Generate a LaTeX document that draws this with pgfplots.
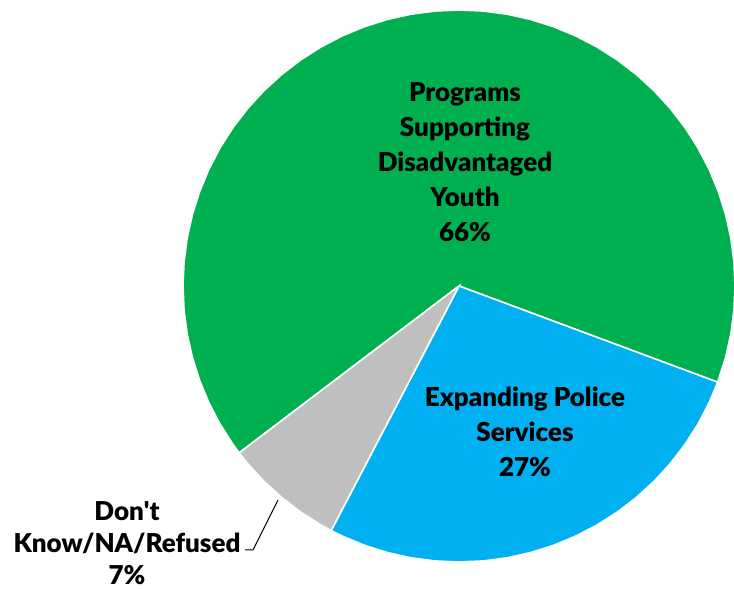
\documentclass[border=0pt]{standalone}
\usepackage{pgfplots}
\pgfplotsset{compat=1.18}
\usepackage{fontspec}
\setmainfont{Lato}[BoldFont={Lato Black}]
\definecolor{pgreen}{HTML}{00B050}
\definecolor{pblue}{HTML}{00B0F0}
\definecolor{pgray}{HTML}{BFBFBF}

\begin{document}
\begin{tikzpicture}
    \begin{axis}[
        hide axis,
        scale only axis,
        width=367pt, height=294.5pt,
        xmin=-459, xmax=275,
        ymin=-303, ymax=286,
        clip=false,
        data cs=polar,
    ]
        % slices: angle (deg), radius -- 66% / 27% / 7%
        \addplot[draw=white, line width=0.8pt, fill=pgreen] coordinates {
            (0,0) (-20.4,276) (-15,276) (-10,276) (-5,276) (0,276) (5,276)
            (10,276) (15,276) (20,276) (25,276) (30,276) (35,276) (40,276)
            (45,276) (50,276) (55,276) (60,276) (65,276) (70,276) (75,276)
            (80,276) (85,276) (90,276) (95,276) (100,276) (105,276) (110,276)
            (115,276) (120,276) (125,276) (130,276) (135,276) (140,276)
            (145,276) (150,276) (155,276) (160,276) (165,276) (170,276)
            (175,276) (180,276) (185,276) (190,276) (195,276) (200,276)
            (205,276) (210,276) (215,276) (217.2,276)
        } -- cycle;
        \addplot[draw=white, line width=0.8pt, fill=pblue] coordinates {
            (0,0) (-117.6,276) (-115,276) (-110,276) (-105,276) (-100,276)
            (-95,276) (-90,276) (-85,276) (-80,276) (-75,276) (-70,276)
            (-65,276) (-60,276) (-55,276) (-50,276) (-45,276) (-40,276)
            (-35,276) (-30,276) (-25,276) (-20.4,276)
        } -- cycle;
        \addplot[draw=white, line width=0.8pt, fill=pgray] coordinates {
            (0,0) (-142.8,276) (-140,276) (-135,276) (-130,276) (-125,276)
            (-120,276) (-117.6,276)
        } -- cycle;

        \draw[black, line width=0.5pt] (axis cs:-181,-214) -- (axis cs:-206,-264) -- (axis cs:-214,-264);

        \node[align=center, font=\fontsize{13}{17.5}\selectfont\bfseries]
            at (axis cs:6,124) {Programs\\Supporting\\Disadvantaged\\Youth\\66\%};
        \node[align=center, font=\fontsize{13}{17.5}\selectfont\bfseries]
            at (axis cs:66,-146) {Expanding Police\\Services\\27\%};
        \node[align=center, font=\fontsize{13}{16}\selectfont\bfseries]
            at (axis cs:-332,-257) {Don\textquotesingle t\\Know/NA/Refused\\7\%};
    \end{axis}
    \pgfresetboundingbox
    \path (current axis.south west) rectangle (current axis.north east);
\end{tikzpicture}
\end{document}
